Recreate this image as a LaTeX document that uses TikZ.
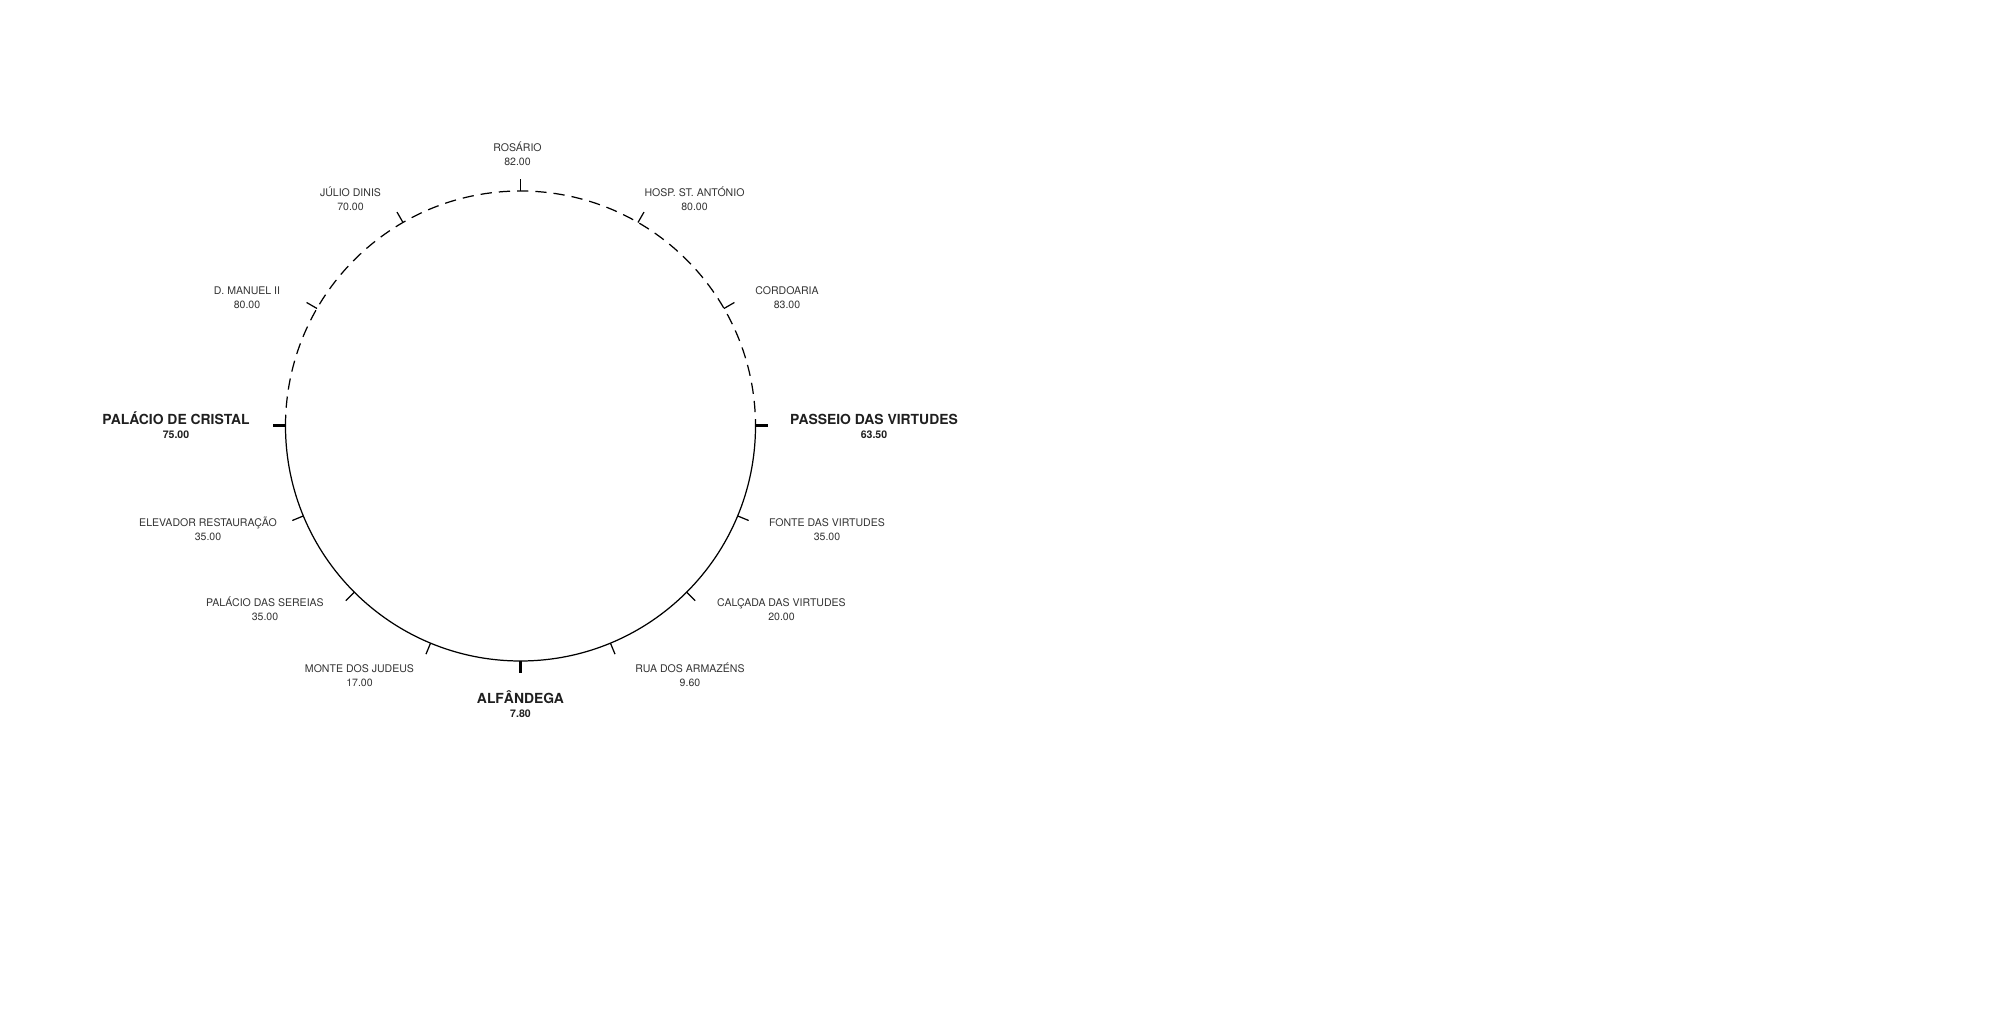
\documentclass[tikz,border=0pt]{standalone}
\usepackage{fontspec}
\setmainfont{TeX Gyre Heros}

\tikzset{
  station/.style={font=\fontsize{3}{4}\selectfont, text=black!80, anchor=base, inner sep=0pt},
  hub/.style={font=\bfseries\fontsize{3.95}{4.5}\selectfont, text=black!88, anchor=base, inner sep=0pt},
  hubval/.style={font=\bfseries\fontsize{3}{4}\selectfont, text=black!88, anchor=base, inner sep=0pt},
  line/.style={line width=0.35pt},
}

\begin{document}
\begin{tikzpicture}[x=0.01cm,y=0.01cm]
            \useasboundingbox (-520.5,-593) rectangle (1479.5,426);
            \coordinate (c) at (0,0);

            % ring: upper half dashed, lower half solid
            \draw [line,dash pattern=on 3.2pt off 2pt] (c) ++(180:235) arc[start angle=180, end angle=0, radius=235];
            \draw [line] (c) ++(180:235) arc[start angle=180, end angle=360, radius=235];

            % ticks
            \foreach \a in {30,60,90,120,150,-22.5,-45,-67.5,-112.5,-135,-157.5} {
                \draw [line] (\a:235) -- (\a:247);
            }
            \foreach \a in {0,-90,180} {
                \draw [line width=0.85pt] (\a:235) -- (\a:247);
            }

            % stations
            \foreach \id/\x/\y/\nm/\val in {
                rosario/-3/274/ROSÁRIO/82.00,
                julio/-170/229/JÚLIO DINIS/70.00,
                hosp/174/229/HOSP. ST. ANTÓNIO/80.00,
                cordoaria/266.5/131/CORDOARIA/83.00,
                manuel/-273.5/131/D. MANUEL II/80.00,
                fonte/306.5/-101/FONTE DAS VIRTUDES/35.00,
                elevador/-312.5/-101/ELEVADOR RESTAURAÇÃO/35.00,
                calcada/261/-180.7/CALÇADA DAS VIRTUDES/20.00,
                sereias/-255.5/-180.7/PALÁCIO DAS SEREIAS/35.00,
                rua/169.5/-247/RUA DOS ARMAZÉNS/9.60,
                monte/-161/-247/MONTE DOS JUDEUS/17.00} {
                \node [station] (\id) at (\x,\y) {\nm};
                \node [station] (\id-v) at (\x,\y-13.5) {\val};
            }

            % terminals
            \foreach \id/\x/\y/\nm/\val in {
                passeio/353.5/1/PASSEIO DAS VIRTUDES/63.50,
                cristal/-344.5/1/PALÁCIO DE CRISTAL/75.00,
                alfandega/0/-278/ALFÂNDEGA/7.80} {
                \node [hub] (\id) at (\x,\y) {\nm};
                \node [hubval] (\id-v) at (\x,\y-13.5) {\val};
            }
\end{tikzpicture}
\end{document}
